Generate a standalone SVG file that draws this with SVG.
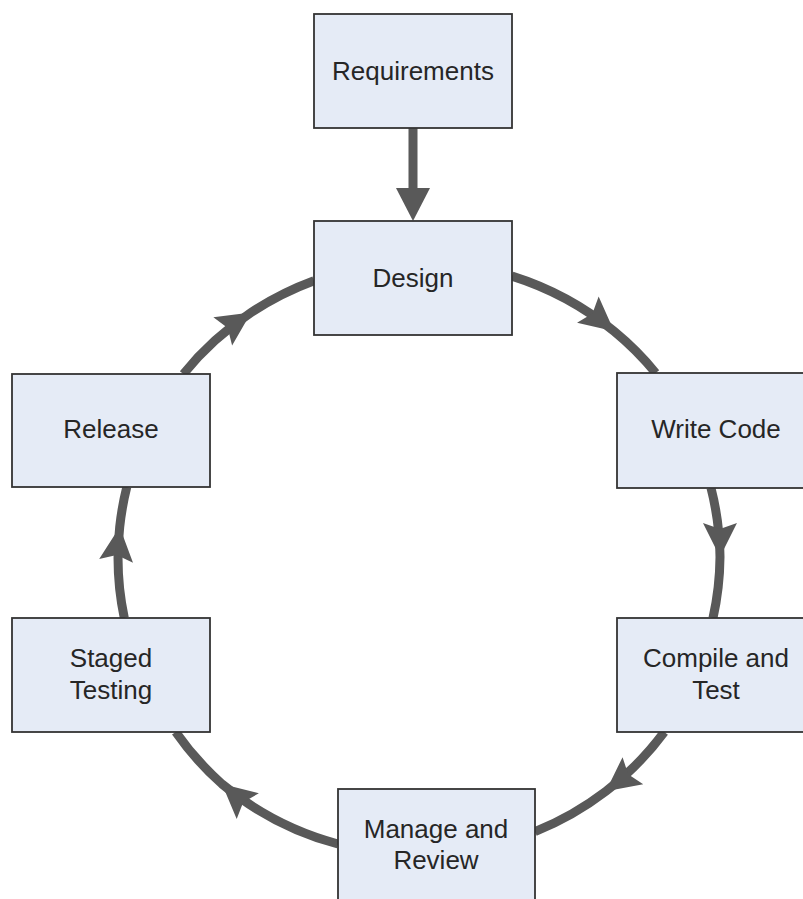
<svg xmlns="http://www.w3.org/2000/svg" width="803" height="899" viewBox="0 0 803 899">
<style>
.box{fill:#e5ebf6;stroke:#333333;stroke-width:1.8}
.lbl{font-family:"Liberation Sans",Arial,sans-serif;font-size:26px;fill:#262626;text-anchor:middle}
.conn{fill:none;stroke:#595959;stroke-width:9}
</style>
<defs>
<marker id="mid" viewBox="-34 -17 34 34" refX="0" refY="0" markerWidth="34" markerHeight="34" markerUnits="userSpaceOnUse" orient="auto" overflow="visible">
<path d="M0,0 L-34,-17 L-28,0 L-34,17 Z" fill="#595959"/>
</marker>
<marker id="end" viewBox="-8 -17 34 34" refX="0" refY="0" markerWidth="34" markerHeight="34" markerUnits="userSpaceOnUse" orient="auto" overflow="visible">
<path d="M-7,-17 L26,0 L-7,17 Z" fill="#595959"/>
</marker>
</defs>
<rect width="803" height="899" fill="#ffffff"/>
<g id="connectors">
<path class="conn" d="M413,126 V195" stroke-linecap="round" marker-end="url(#end)"/>
<path class="conn" d="M512,276.1 A302 296 0 0 1 614.1,331.3 A302 296 0 0 1 655.7,373" marker-mid="url(#mid)"/>
<path class="conn" d="M711,488 A302 296 0 0 1 720,557 A302 296 0 0 1 713,618" marker-mid="url(#mid)"/>
<path class="conn" d="M664.3,732 A302 296 0 0 1 605.9,791.3 A302 296 0 0 1 535,831.7" marker-mid="url(#mid)"/>
<path class="conn" d="M338,844 A302 296 0 0 1 222,784 A302 296 0 0 1 175.7,732" marker-mid="url(#mid)"/>
<path class="conn" d="M124.3,618 A302 296 0 0 1 119.7,527.1 A302 296 0 0 1 126.8,487" marker-mid="url(#mid)"/>
<path class="conn" d="M183.4,374 A302 296 0 0 1 251.1,312.6 A302 296 0 0 1 314,280.8" marker-mid="url(#mid)"/>
</g>
<g id="requirements"><rect class="box" x="314" y="14" width="198" height="114"/><text class="lbl" x="413" y="80">Requirements</text></g>
<g id="design"><rect class="box" x="314" y="221" width="198" height="114"/><text class="lbl" x="413" y="287">Design</text></g>
<g id="write-code"><rect class="box" x="617" y="373" width="198" height="115"/><text class="lbl" x="716" y="438">Write Code</text></g>
<g id="compile-test"><rect class="box" x="617" y="618" width="198" height="114"/><text class="lbl" x="716" y="667">Compile and</text><text class="lbl" x="716" y="699">Test</text></g>
<g id="manage-review"><rect class="box" x="338" y="789" width="197" height="114"/><text class="lbl" x="436" y="838">Manage and</text><text class="lbl" x="436" y="869">Review</text></g>
<g id="staged-testing"><rect class="box" x="12" y="618" width="198" height="114"/><text class="lbl" x="111" y="667">Staged</text><text class="lbl" x="111" y="699">Testing</text></g>
<g id="release"><rect class="box" x="12" y="374" width="198" height="113"/><text class="lbl" x="111" y="438">Release</text></g>
</svg>
